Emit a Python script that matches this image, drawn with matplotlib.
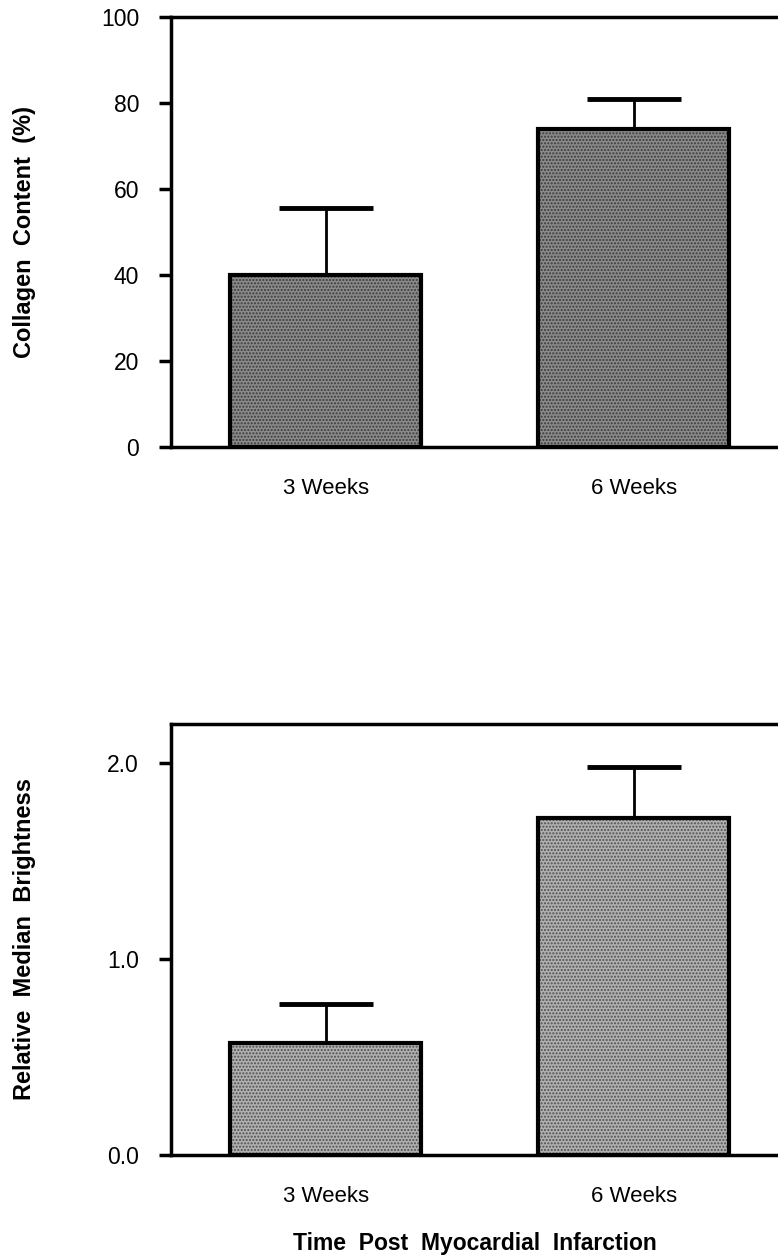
import matplotlib.pyplot as plt
from matplotlib.ticker import FormatStrFormatter

# data
groups = ['3 Weeks', '6 Weeks']
collagen = [40, 74]
collagen_err = [15.5, 7]
brightness = [0.57, 1.72]
brightness_err = [0.20, 0.26]

plt.rcParams['font.family'] = ['Liberation Sans', 'DejaVu Sans']

W, H = 778, 1257
fig = plt.figure(figsize=(W / 100, H / 100), dpi=100)


def make_panel(rect, vals, errs, ylim, yticks, ylabel, fmt, face, hatch_col):
    ax = fig.add_axes(rect)
    x = range(len(groups))
    # stippled fill, then black outline on top
    ax.bar(x, vals, width=0.62, color=face, edgecolor=hatch_col, hatch='.....',
           linewidth=0, zorder=2)
    ax.bar(x, vals, width=0.62, fill=False, edgecolor='black', linewidth=3, zorder=3)
    ax.errorbar(x, vals, yerr=[[0, 0], errs], fmt='none', ecolor='black',
                elinewidth=2, capsize=34, capthick=3.5, zorder=1)
    ax.set_xlim(-0.503, 1.468)
    ax.set_ylim(*ylim)
    ax.set_yticks(yticks)
    ax.yaxis.set_major_formatter(FormatStrFormatter(fmt))
    ax.set_xticks(list(x))
    ax.set_xticklabels(groups, fontsize=16)
    ax.tick_params(axis='x', length=0, pad=22)
    ax.tick_params(axis='y', length=9, width=2.5, labelsize=16.5, pad=14)
    ax.spines['right'].set_visible(False)
    for s in ['left', 'bottom', 'top']:
        ax.spines[s].set_linewidth(2.5)
    ax.set_ylabel(ylabel, fontsize=17, fontweight='bold')
    ax.yaxis.set_label_coords(-0.222, 0.5)
    return ax


top = make_panel([171 / W, 1 - 447 / H, 1 - 171 / W, 430 / H],
                 collagen, collagen_err, (0, 100), [0, 20, 40, 60, 80, 100],
                 'Collagen  Content  (%)', '%d', '#8a8a8a', '#3a3a3a')

bot = make_panel([171 / W, 1 - 1155 / H, 1 - 171 / W, 431 / H],
                 brightness, brightness_err, (0, 2.2), [0.0, 1.0, 2.0],
                 'Relative  Median  Brightness', '%.1f', '#b0b0b0', '#505050')
bot.set_xlabel('Time  Post  Myocardial  Infarction', fontsize=16.5,
               fontweight='bold', labelpad=18)

fig.savefig('out.png', dpi=100)
